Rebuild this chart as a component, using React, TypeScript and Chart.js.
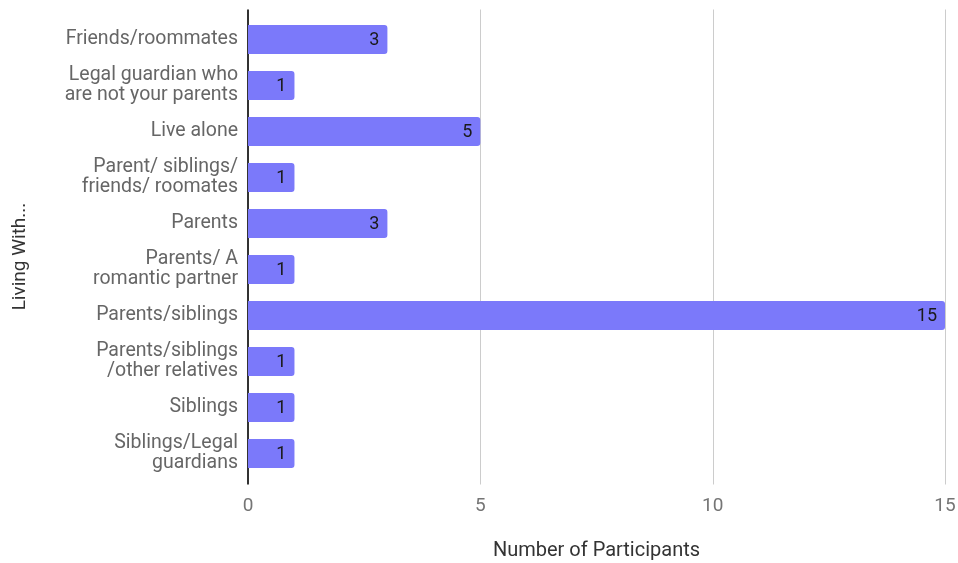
import React, { useEffect, useRef } from "react";
import { Chart, registerables } from "chart.js";
Chart.register(...registerables);

const categories: (string | string[])[] = [
  "Friends/roommates",
  ["Legal guardian who", "are not your parents"],
  "Live alone",
  ["Parent/ siblings/", "friends/ roomates"],
  "Parents",
  ["Parents/ A", "romantic partner"],
  "Parents/siblings",
  ["Parents/siblings", "/other relatives"],
  "Siblings",
  ["Siblings/Legal", "guardians"],
];
const participants = [3, 1, 5, 1, 3, 1, 15, 1, 1, 1];
const xTicks = [0, 5, 10, 15];
const xTitle = "Number of Participants";
const yTitle = "Living With...";

const FONT = "Roboto, 'Noto Sans', sans-serif";

const gridPlugin = {
  id: "customGrid",
  beforeDatasetsDraw(chart: any) {
    const { ctx, chartArea, scales } = chart;
    const x = scales.x;
    ctx.save();
    xTicks.forEach((v) => {
      const px = Math.round(x.getPixelForValue(v)) + (v === 0 ? 0 : 0.5);
      ctx.beginPath();
      ctx.strokeStyle = v === 0 ? "#333333" : "#cccccc";
      ctx.lineWidth = v === 0 ? 2 : 1;
      ctx.moveTo(px, chartArea.top - 7);
      ctx.lineTo(px, chartArea.bottom + 8);
      ctx.stroke();
    });
    ctx.restore();
  },
  afterDatasetsDraw(chart: any) {
    const { ctx, chartArea } = chart;
    const meta = chart.getDatasetMeta(0);
    ctx.save();
    ctx.font = `18px ${FONT}`;
    ctx.fillStyle = "#1a1a1a";
    ctx.textAlign = "right";
    ctx.textBaseline = "middle";
    meta.data.forEach((bar: any, i: number) => {
      ctx.fillText(String(participants[i]), bar.x - 8, bar.y + 1);
    });
    // y axis title
    ctx.font = `19px ${FONT}`;
    ctx.translate(20, (chartArea.top + chartArea.bottom) / 2 + 10);
    ctx.rotate(-Math.PI / 2);
    ctx.textAlign = "center";
    ctx.fillStyle = "#333333";
    ctx.fillText(yTitle, 0, 0);
    ctx.restore();
  },
};

export default function App() {
  const ref = useRef<HTMLCanvasElement>(null);
  useEffect(() => {
    const chart = new Chart(ref.current!, {
      type: "bar",
      data: {
        labels: categories,
        datasets: [
          {
            data: participants,
            backgroundColor: "#7b79fa",
            borderRadius: { topRight: 3, bottomRight: 3, topLeft: 0, bottomLeft: 0 },
            borderSkipped: false,
            barPercentage: 0.63,
            categoryPercentage: 1,
          },
        ],
      },
      options: {
        indexAxis: "y",
        animation: false,
        responsive: false,
        maintainAspectRatio: false,
        layout: { padding: { top: 16.5, right: 13, left: 0, bottom: 0 } },
        plugins: { legend: { display: false }, tooltip: { enabled: false } },
        scales: {
          x: {
            min: 0,
            max: 15,
            afterBuildTicks: (axis: any) => {
              axis.ticks = xTicks.map((v) => ({ value: v }));
            },
            afterFit: (axis: any) => {
              axis.height = 86.5;
              axis.paddingLeft = 0;
              axis.paddingRight = 0;
            },
            grid: { display: false, drawTicks: false },
            border: { display: false },
            ticks: { color: "#757575", font: { size: 19, family: FONT }, padding: 18 },
            title: {
              display: true,
              text: xTitle,
              color: "#333333",
              font: { size: 20, family: FONT },
              padding: { top: 0, bottom: 0 },
            },
          },
          y: {
            afterFit: (axis: any) => {
              axis.width = 248;
              axis.paddingTop = 0;
              axis.paddingBottom = 0;
            },
            grid: { display: false, drawTicks: false },
            border: { display: false },
            ticks: {
              color: "#666666",
              font: { size: 19.5, family: FONT, lineHeight: 1.03 },
              padding: 10,
              autoSkip: false,
            },
            title: { display: false },
          },
        },
      },
      plugins: [gridPlugin],
    });
    return () => chart.destroy();
  }, []);
  return (
    <div style={{ position: "absolute", left: 0, top: 0, width: 958, height: 563, background: "#fff" }}>
      <canvas ref={ref} width={958} height={563} />
    </div>
  );
}
